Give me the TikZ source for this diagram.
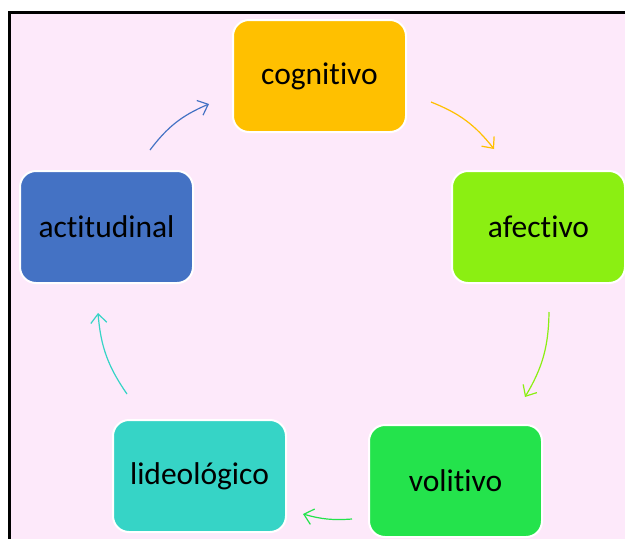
\documentclass[tikz,border=0pt]{standalone}
\usepackage{fontspec}
\setmainfont[RawFeature={-liga;-clig}]{Carlito}
\usetikzlibrary{arrows.meta}
\definecolor{bgpink}{HTML}{FDE9FA}
\definecolor{ccog}{HTML}{FFC000}
\definecolor{cafe}{HTML}{8BEF12}
\definecolor{cvol}{HTML}{24E34C}
\definecolor{cide}{HTML}{36D4C6}
\definecolor{cact}{HTML}{4472C4}
\begin{document}
\begin{tikzpicture}[x=1pt,y=-1pt,
  stagebox/.style={draw=white, line width=2pt, rounded corners=16pt,
    minimum width=173pt, minimum height=112pt, inner sep=0pt,
    font=\fontsize{31.5}{36}\selectfont, text=black},
  cyclearrow/.style={line width=1.2pt, -{Straight Barb[length=9pt,width=16pt,line width=1.2pt]}}]
\useasboundingbox (0,0) rectangle (625,539);
\fill[bgpink] (9.5,12.5) rectangle (625,539);
\draw[line width=3pt] (9.5,539) -- (9.5,12.5) -- (625,12.5);
\node[stagebox, fill=ccog] (cog) at (319.5,76) {cognitivo};
\node[stagebox, fill=cafe] (afe) at (538.5,227) {afectivo};
\node[stagebox, fill=cvol] (vol) at (455.5,481) {volitivo};
\node[stagebox, fill=cide] (ide) at (199.5,476) {lideológico};
\node[stagebox, fill=cact] (act) at (106.5,227) {actitudinal};
\coordinate (a1s) at (150,150); \coordinate (a1e) at (209,104);
\coordinate (a2s) at (431,102); \coordinate (a2e) at (494,149);
\coordinate (a3s) at (549,312); \coordinate (a3e) at (525,397);
\coordinate (a4s) at (352,519); \coordinate (a4e) at (303,514);
\coordinate (a5s) at (127,394); \coordinate (a5e) at (98,313);
\draw[cyclearrow, cact] (a1s) to[bend left=15] (a1e);
\draw[cyclearrow, ccog] (a2s) to[bend left=15] (a2e);
\draw[cyclearrow, cafe] (a3s) to[bend left=15] (a3e);
\draw[cyclearrow, cvol] (a4s) to[bend left=10] (a4e);
\draw[cyclearrow, cide] (a5s) to[bend left=15] (a5e);
\end{tikzpicture}
\end{document}
